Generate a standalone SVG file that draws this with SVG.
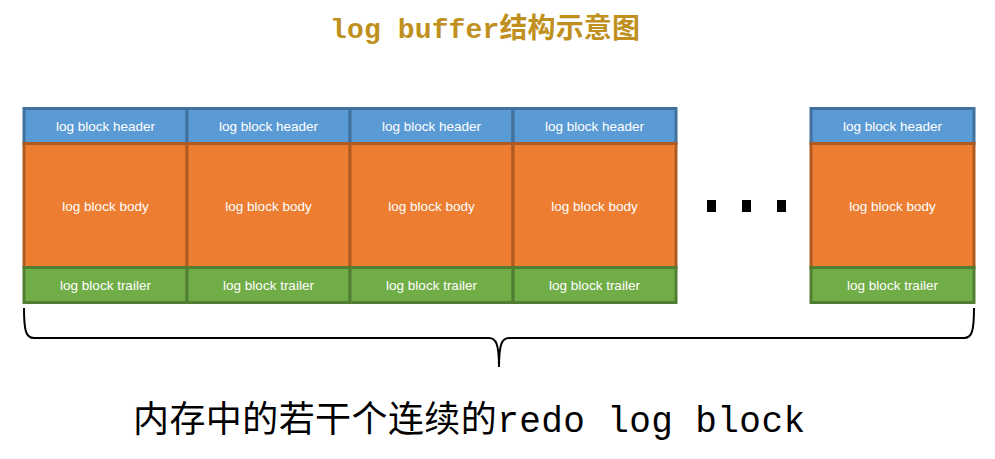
<svg xmlns="http://www.w3.org/2000/svg" width="995" height="459" viewBox="0 0 995 459">
<style>
.h{fill:#5B9BD5;stroke:#41719C;stroke-width:3}
.b{fill:#ED7D31;stroke:#AE5A21;stroke-width:3}
.t{fill:#70AD47;stroke:#507E32;stroke-width:3}
.lbl{font-family:"Liberation Sans",Arial,sans-serif;font-size:13.5px;fill:#ffffff;text-anchor:middle}
.dot{fill:#000}
</style>
<rect width="995" height="459" fill="#ffffff"/>
<text x="485" y="38" text-anchor="middle" font-family="'Liberation Mono','Noto Sans CJK SC',monospace" font-size="28" font-weight="bold" fill="#C0901E" textLength="310">log buffer结构示意图</text>
<defs>
<g id="blk">
<rect class="h" x="0" y="108.5" width="163" height="35"/>
<rect class="b" x="0" y="143.5" width="163" height="124"/>
<rect class="t" x="0" y="267.5" width="163" height="35"/>
<text class="lbl" x="81.5" y="131">log block header</text>
<text class="lbl" x="81.5" y="211">log block body</text>
<text class="lbl" x="81.5" y="290">log block trailer</text>
</g>
</defs>
<g id="block1"><use href="#blk" x="24"/></g>
<g id="block2"><use href="#blk" x="187"/></g>
<g id="block3"><use href="#blk" x="350"/></g>
<g id="block4"><use href="#blk" x="513"/></g>
<g id="ellipsis">
<rect class="dot" x="707" y="200" width="9" height="12"/>
<rect class="dot" x="742" y="200" width="9" height="12"/>
<rect class="dot" x="777" y="200" width="9" height="12"/>
</g>
<g id="blockN"><use href="#blk" x="811"/></g>
<g id="connectors">
<path d="M24,308 C24,331 26,338 34,338 L489,338 C496,338 499,344 499,367 C499,344 502,338 509,338 L964,338 C972,338 974,331 974,308" fill="none" stroke="#000" stroke-width="2"/>
</g>
<text x="133" y="432" font-family="'Liberation Mono','Noto Sans CJK SC',monospace" font-size="36" fill="#000" textLength="672">内存中的若干个连续的redo log block</text>
</svg>
